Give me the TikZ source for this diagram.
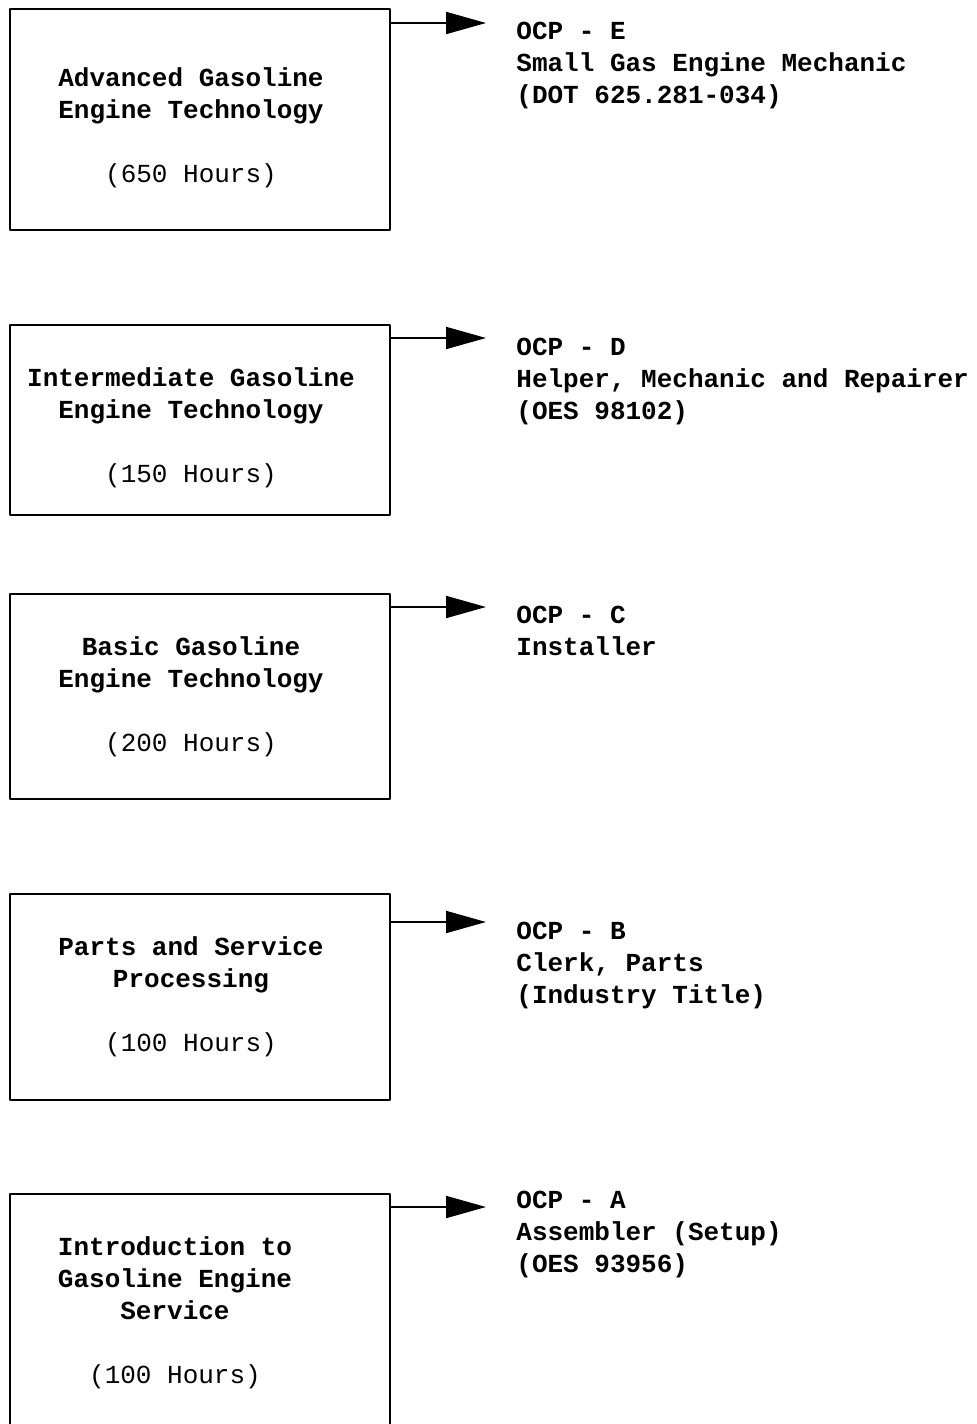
\documentclass[tikz,border=0pt]{standalone}
\usepackage{fontspec}
\setmonofont{Liberation Mono}
\usetikzlibrary{arrows.meta}

\tikzset{
  unitbox/.style={draw, line width=1pt, line join=round, minimum width=190pt, inner sep=0pt},
  unittitle/.style={align=center, anchor=base, inner sep=0pt, font=\fontsize{13pt}{16pt}\selectfont\ttfamily\bfseries},
  jobtext/.style={align=left, anchor=base west, inner sep=0pt, font=\fontsize{13pt}{16pt}\selectfont\ttfamily\bfseries},
  jobarrow/.style={line width=1pt, -{Triangle[length=20pt, width=11pt]}}
}
\newcommand{\hrs}[1]{{\mdseries #1}}

\begin{document}
\begin{tikzpicture}[x=0.5pt, y=-0.5pt]
\useasboundingbox (0,0) rectangle (976,1424);
% the five course units
\node[unitbox, minimum height=110.5pt] (adv) at (200,119.5) {};
\node[unitbox, minimum height=95pt] (inter) at (200,420) {};
\node[unitbox, minimum height=102.5pt] (basic) at (200,696.5) {};
\node[unitbox, minimum height=103pt] (parts) at (200,997) {};
\node[unitbox, minimum height=123pt] (intro) at (200,1317) {};
% titles sit on the baseline of their last line
\node[unittitle] (advtitle) at (191,182) {Advanced Gasoline\\Engine Technology\\[16pt]\hrs{(650 Hours)}};
\node[unittitle] (intertitle) at (191,482) {Intermediate Gasoline\\Engine Technology\\[16pt]\hrs{(150 Hours)}};
\node[unittitle] (basictitle) at (191,751) {Basic Gasoline\\Engine Technology\\[16pt]\hrs{(200 Hours)}};
\node[unittitle] (partstitle) at (191,1051) {Parts and Service\\Processing\\[16pt]\hrs{(100 Hours)}};
\node[unittitle] (introtitle) at (175,1383) {Introduction to\\Gasoline Engine\\Service\\[16pt]\hrs{(100 Hours)}};
% arrows to the occupations
\coordinate (advout) at ([yshift=-7.5pt]adv.north east);
\coordinate (interout) at ([yshift=-7pt]inter.north east);
\coordinate (basicout) at ([yshift=-7pt]basic.north east);
\coordinate (partsout) at ([yshift=-14.5pt]parts.north east);
\coordinate (introout) at ([yshift=-7pt]intro.north east);
\coordinate (advtip) at ([xshift=47.5pt]advout);
\coordinate (intertip) at ([xshift=47.5pt]interout);
\coordinate (basictip) at ([xshift=47.5pt]basicout);
\coordinate (partstip) at ([xshift=47.5pt]partsout);
\coordinate (introtip) at ([xshift=47.5pt]introout);
\draw[jobarrow] (advout) -- (advtip);
\draw[jobarrow] (interout) -- (intertip);
\draw[jobarrow] (basicout) -- (basictip);
\draw[jobarrow] (partsout) -- (partstip);
\draw[jobarrow] (introout) -- (introtip);
\node[jobtext] (ocpe) at (516,103) {OCP - E\\Small Gas Engine Mechanic\\(DOT 625.281-034)};
\node[jobtext] (ocpd) at (516,419) {OCP - D\\Helper, Mechanic and Repairer\\(OES 98102)};
\node[jobtext] (ocpc) at (516,655) {OCP - C\\Installer};
\node[jobtext] (ocpb) at (516,1003) {OCP - B\\Clerk, Parts\\(Industry Title)};
\node[jobtext] (ocpa) at (516,1272) {OCP - A\\Assembler (Setup)\\(OES 93956)};
\end{tikzpicture}
\end{document}
